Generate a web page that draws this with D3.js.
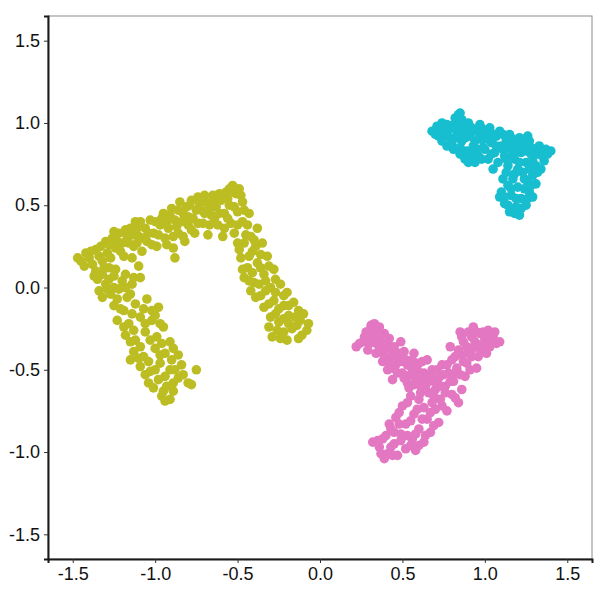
<!DOCTYPE html>
<html>
<head>
<meta charset="utf-8">
<script src="https://cdn.jsdelivr.net/npm/d3@7"></script>
<style>
  body { margin: 0; background: #fff; }
</style>
</head>
<body>
<div id="chart"></div>
<script>
// three groups of points (x, y)
var olive = [
  [-1.47,0.18],[-1.42,0.21],[-1.39,0.22],[-1.43,0.13],[-1.38,0.14],
  [-1.34,0.19],[-1.33,0.25],[-1.30,0.28],[-1.29,0.21],[-1.31,0.12],
  [-1.26,0.30],[-1.24,0.24],[-1.22,0.33],[-1.20,0.27],[-1.19,0.19],
  [-1.17,0.31],[-1.15,0.36],[-1.13,0.25],[-1.12,0.40],[-1.10,0.31],
  [-1.08,0.22],[-1.06,0.36],[-1.05,0.28],[-1.03,0.41],[-1.01,0.33],
  [-0.99,0.25],[-0.97,0.38],[-0.95,0.45],[-0.94,0.30],[-0.92,0.36],
  [-0.90,0.48],[-0.89,0.24],[-0.88,0.41],[-0.86,0.33],[-0.85,0.52],
  [-0.83,0.45],[-0.82,0.28],[-0.80,0.38],[-0.79,0.50],[-0.77,0.42],
  [-0.76,0.33],[-0.74,0.55],[-0.72,0.47],[-0.71,0.39],[-0.69,0.52],
  [-0.68,0.32],[-0.66,0.44],[-0.65,0.56],[-0.63,0.49],[-0.62,0.38],
  [-0.60,0.53],[-0.59,0.31],[-0.58,0.45],[-0.57,0.58],[-0.55,0.50],
  [-0.54,0.39],[-0.53,0.62],[-0.51,0.57],[-0.50,0.46],[-0.49,0.60],
  [-0.52,0.33],[-0.47,0.52],[-0.88,0.18],[-1.14,0.18],
  [-1.45,0.16],[-1.40,0.18],[-1.36,0.23],[-1.36,0.10],[-1.32,0.16],
  [-1.28,0.26],[-1.27,0.18],[-1.25,0.34],[-1.23,0.28],[-1.21,0.22],
  [-1.18,0.35],[-1.16,0.27],[-1.14,0.32],[-1.11,0.36],[-1.11,0.27],
  [-1.09,0.40],[-1.07,0.30],[-1.04,0.33],[-1.02,0.26],[-1.00,0.40],
  [-0.98,0.32],[-0.96,0.42],[-0.93,0.40],[-0.93,0.26],[-0.91,0.44],
  [-0.89,0.31],[-0.87,0.37],[-0.86,0.47],[-0.84,0.40],[-0.83,0.31],
  [-0.81,0.49],[-0.80,0.43],[-0.78,0.35],[-0.78,0.53],[-0.75,0.47],
  [-0.74,0.39],[-0.73,0.51],[-0.70,0.45],[-0.70,0.56],[-0.67,0.49],
  [-0.67,0.38],[-0.64,0.53],[-0.64,0.42],[-0.61,0.57],[-0.61,0.45],
  [-0.58,0.36],[-0.56,0.54],[-0.56,0.42],[-0.55,0.60],[-0.52,0.49],
  [-0.52,0.58],[-0.48,0.56],[-0.50,0.38],[-0.46,0.47],[-0.44,0.38],
  [-0.47,0.40],[-0.43,0.45],[-0.50,0.27],[-0.45,0.32],[-0.38,0.36],
  [-0.41,0.22],[-0.35,0.27],[-0.48,0.18],[-0.44,0.12],[-0.38,0.15],
  [-0.32,0.19],[-0.46,0.06],[-0.40,0.03],[-0.34,0.08],[-0.28,0.11],
  [-0.42,-0.02],[-0.36,-0.05],[-0.30,0.00],[-0.24,0.02],[-0.20,-0.03],
  [-0.34,-0.12],[-0.28,-0.08],[-0.22,-0.11],[-0.16,-0.09],[-0.13,-0.14],
  [-0.30,-0.18],[-0.25,-0.21],[-0.19,-0.17],[-0.12,-0.20],[-0.07,-0.22],
  [-0.29,-0.30],[-0.22,-0.27],[-0.17,-0.25],[-0.11,-0.29],[-0.08,-0.26],
  [-0.20,-0.32],[-0.31,-0.24],[-0.40,0.29],
  [-0.49,0.23],[-0.46,0.27],[-0.42,0.31],[-0.39,0.25],[-0.43,0.19],
  [-0.36,0.20],[-0.47,0.11],[-0.41,0.09],[-0.36,0.12],[-0.31,0.13],
  [-0.43,0.04],[-0.37,0.02],[-0.33,0.04],[-0.27,0.05],[-0.39,-0.06],
  [-0.33,-0.02],[-0.27,-0.03],[-0.22,-0.05],[-0.31,-0.10],[-0.25,-0.13],
  [-0.19,-0.11],[-0.27,-0.16],[-0.22,-0.19],[-0.15,-0.18],[-0.10,-0.16],
  [-0.26,-0.26],[-0.19,-0.22],[-0.14,-0.23],[-0.13,-0.31],[-0.24,-0.31],
  [-1.35,0.05],[-1.30,0.02],[-1.25,0.07],[-1.34,-0.02],[-1.27,-0.04],
  [-1.20,0.04],[-1.22,-0.01],[-1.14,0.02],[-1.09,0.06],[-1.17,-0.06],
  [-1.25,-0.11],[-1.19,-0.14],[-1.12,-0.10],[-1.05,-0.07],[-0.98,-0.12],
  [-1.23,-0.20],[-1.16,-0.22],[-1.09,-0.18],[-1.02,-0.20],[-0.95,-0.24],
  [-1.18,-0.29],[-1.12,-0.32],[-1.06,-0.27],[-0.99,-0.30],[-0.91,-0.33],
  [-1.13,-0.39],[-1.07,-0.42],[-1.00,-0.37],[-0.94,-0.40],[-0.86,-0.41],
  [-1.09,-0.48],[-1.03,-0.51],[-0.97,-0.46],[-0.91,-0.50],[-0.84,-0.47],
  [-1.04,-0.58],[-0.98,-0.56],[-0.93,-0.60],[-0.86,-0.55],[-0.80,-0.58],
  [-0.96,-0.66],[-0.91,-0.68],[-0.89,-0.63],[-0.75,-0.50],[-0.78,-0.59],
  [-1.28,0.12],[-1.10,0.13],[-1.02,-0.14],[-1.15,-0.44],
  [-1.37,0.07],[-1.32,0.08],[-1.28,0.05],[-1.24,0.11],[-1.18,0.08],
  [-1.32,-0.06],[-1.29,-0.01],[-1.25,0.00],[-1.18,0.00],[-1.13,0.06],
  [-1.23,-0.07],[-1.15,-0.04],[-1.21,-0.13],[-1.14,-0.16],[-1.07,-0.13],
  [-1.00,-0.17],[-1.19,-0.24],[-1.13,-0.26],[-1.06,-0.22],[-0.97,-0.22],
  [-1.15,-0.33],[-1.09,-0.36],[-1.03,-0.32],[-0.96,-0.34],[-0.89,-0.37],
  [-1.10,-0.43],[-1.04,-0.45],[-0.97,-0.41],[-0.90,-0.44],[-1.06,-0.53],
  [-1.00,-0.50],[-0.94,-0.54],[-0.88,-0.50],[-1.01,-0.61],[-0.95,-0.63],
  [-0.89,-0.58],[-0.83,-0.53],[-0.94,-0.69]
];

var cyan = [
  [0.68,0.95],[0.71,0.98],[0.72,0.92],[0.75,0.96],[0.77,0.99],
  [0.79,0.91],[0.82,1.03],[0.84,1.05],[0.86,1.02],[0.83,0.95],
  [0.80,0.87],[0.86,0.89],[0.88,0.97],[0.90,1.00],[0.91,0.92],
  [0.89,0.83],[0.93,0.86],[0.95,0.95],[0.97,0.99],[0.98,0.90],
  [0.96,0.80],[1.00,0.84],[1.01,0.94],[1.03,0.97],[1.04,0.88],
  [1.02,0.78],[1.06,0.82],[1.07,0.92],[1.09,0.95],[1.10,0.86],
  [1.08,0.76],[1.12,0.80],[1.13,0.90],[1.15,0.93],[1.16,0.84],
  [1.14,0.74],[1.18,0.78],[1.19,0.88],[1.21,0.91],[1.22,0.82],
  [1.24,0.86],[1.25,0.76],[1.27,0.89],[1.28,0.81],[1.30,0.84],
  [1.31,0.74],[1.33,0.86],[1.35,0.80],[1.37,0.84],[1.40,0.83],
  [1.34,0.72],[1.29,0.68],[1.26,0.64],[1.23,0.70],[1.20,0.72],
  [1.17,0.66],[1.11,0.66],[1.14,0.62],[1.20,0.61],[1.27,0.58],
  [1.10,0.58],[1.16,0.56],[1.22,0.54],[1.29,0.55],[1.12,0.51],
  [1.19,0.49],[1.25,0.50],[1.21,0.44],[1.15,0.46],[1.09,0.55],
  [1.05,0.72],[0.94,0.76],[1.31,0.63],
  [0.70,0.93],[0.73,0.96],[0.74,1.00],[0.76,0.93],[0.78,0.96],
  [0.81,0.99],[0.85,1.06],[0.83,0.91],[0.84,0.99],[0.87,0.95],
  [0.85,0.85],[0.88,0.91],[0.92,0.97],[0.94,0.89],[0.91,0.82],
  [0.95,0.84],[0.97,0.92],[0.99,0.96],[0.99,0.85],[1.02,0.90],
  [0.98,0.78],[1.04,0.81],[1.05,0.93],[1.07,0.86],[1.11,0.93],
  [1.11,0.84],[1.13,0.78],[1.14,0.87],[1.17,0.90],[1.17,0.80],
  [1.20,0.84],[1.21,0.76],[1.23,0.88],[1.25,0.83],[1.26,0.92],
  [1.28,0.85],[1.29,0.77],[1.32,0.81],[1.34,0.84],[1.36,0.77],
  [1.38,0.81],[1.32,0.70],[1.27,0.72],[1.24,0.66],[1.18,0.69],
  [1.13,0.70],[1.16,0.60],[1.24,0.60],[1.12,0.55],[1.19,0.54],
  [1.26,0.54],[1.14,0.50],[1.22,0.48],[1.18,0.45],[1.28,0.62],
  [0.77,0.86],[0.81,0.84],[0.85,0.81],[0.88,0.78],[0.92,0.79],
  [0.90,0.76],[0.74,0.89]
];

var pink = [
  [0.22,-0.36],[0.26,-0.33],[0.28,-0.27],[0.31,-0.23],[0.33,-0.22],
  [0.29,-0.38],[0.32,-0.30],[0.35,-0.26],[0.37,-0.33],[0.34,-0.40],
  [0.39,-0.28],[0.40,-0.37],[0.38,-0.45],[0.42,-0.31],[0.43,-0.42],
  [0.41,-0.50],[0.45,-0.36],[0.46,-0.47],[0.44,-0.56],[0.48,-0.40],
  [0.50,-0.52],[0.49,-0.33],[0.52,-0.44],[0.53,-0.58],[0.55,-0.48],
  [0.57,-0.40],[0.58,-0.55],[0.60,-0.46],[0.61,-0.60],[0.63,-0.52],
  [0.65,-0.44],[0.66,-0.57],[0.68,-0.50],[0.70,-0.62],[0.36,-0.24],
  [0.72,-0.55],[0.74,-0.47],[0.76,-0.60],[0.78,-0.52],[0.80,-0.44],
  [0.81,-0.57],[0.83,-0.49],[0.84,-0.38],[0.86,-0.30],[0.87,-0.45],
  [0.88,-0.54],[0.89,-0.36],[0.90,-0.27],[0.92,-0.42],[0.93,-0.24],
  [0.94,-0.33],[0.95,-0.49],[0.97,-0.28],[0.98,-0.38],[1.00,-0.31],
  [1.02,-0.26],[1.03,-0.36],[1.05,-0.30],[1.07,-0.34],[1.09,-0.33],
  [0.96,-0.42],[1.01,-0.40],[0.91,-0.50],[0.85,-0.27],[0.79,-0.36],
  [0.66,-0.64],[0.73,-0.68],[0.80,-0.65],[0.86,-0.62],[0.84,-0.70],
  [0.60,-0.68],[0.55,-0.66],[0.63,-0.73],[0.70,-0.74],[0.77,-0.75],
  [0.50,-0.72],[0.57,-0.77],[0.65,-0.80],[0.72,-0.82],[0.46,-0.79],
  [0.52,-0.83],[0.60,-0.86],[0.67,-0.88],[0.43,-0.86],[0.49,-0.89],
  [0.56,-0.92],[0.63,-0.94],[0.38,-0.92],[0.45,-0.95],[0.52,-0.98],
  [0.32,-0.94],[0.36,-0.97],[0.41,-1.01],[0.39,-1.04],[0.47,-1.02],
  [0.58,-0.99],[0.42,-0.83],[0.54,-0.61],[0.68,-0.70],
  [0.24,-0.34],[0.27,-0.30],[0.30,-0.26],[0.30,-0.34],[0.33,-0.27],
  [0.34,-0.34],[0.36,-0.29],[0.36,-0.38],[0.38,-0.35],[0.39,-0.42],
  [0.41,-0.34],[0.42,-0.46],[0.44,-0.39],[0.44,-0.49],[0.46,-0.42],
  [0.47,-0.52],[0.49,-0.45],[0.51,-0.39],[0.51,-0.55],[0.53,-0.47],
  [0.55,-0.53],[0.56,-0.44],[0.57,-0.59],[0.59,-0.50],[0.62,-0.55],
  [0.62,-0.45],[0.64,-0.60],[0.67,-0.53],[0.69,-0.57],[0.71,-0.50],
  [0.73,-0.60],[0.75,-0.53],[0.77,-0.47],[0.79,-0.57],[0.82,-0.52],
  [0.82,-0.42],[0.85,-0.53],[0.86,-0.41],[0.87,-0.33],[0.89,-0.46],
  [0.90,-0.40],[0.92,-0.30],[0.93,-0.37],[0.95,-0.27],[0.96,-0.35],
  [0.99,-0.27],[0.99,-0.34],[1.01,-0.29],[1.04,-0.33],[1.06,-0.27],
  [0.69,-0.66],[0.76,-0.64],[0.82,-0.67],[0.61,-0.64],[0.67,-0.76],
  [0.74,-0.72],[0.53,-0.70],[0.59,-0.74],[0.62,-0.80],[0.69,-0.84],
  [0.48,-0.76],[0.55,-0.81],[0.48,-0.83],[0.58,-0.89],[0.64,-0.90],
  [0.45,-0.88],[0.53,-0.90],[0.40,-0.90],[0.49,-0.93],[0.43,-0.97],
  [0.55,-0.96],[0.35,-0.93],[0.60,-0.96],[0.44,-1.02],[0.37,-1.01]
];

var groups = ["olive", "cyan", "pink"];
var groupColors = ["#bcbd22", "#17becf", "#e377c2"];
var tickValues = [-1.5, -1.0, -0.5, 0.0, 0.5, 1.0, 1.5];
var domainX = [-1.65, 1.65];
var domainY = [-1.65, 1.65];

var width = 600,
    height = 600;
var margin = {top: 16, right: 8, bottom: 41, left: 48};

var svg = d3.select("#chart")
  .append("svg")
  .attr("width", width)
  .attr("height", height);

var x = d3.scaleLinear().domain(domainX).range([margin.left, width - margin.right]);
var y = d3.scaleLinear().domain(domainY).range([height - margin.bottom, margin.top]);
var color = d3.scaleOrdinal().domain(groups).range(groupColors);

// panel border (thin grey)
svg.append("rect")
  .attr("x", margin.left)
  .attr("y", margin.top)
  .attr("width", width - margin.left - margin.right)
  .attr("height", height - margin.top - margin.bottom)
  .attr("fill", "none")
  .attr("stroke", "#8c8c8c")
  .attr("stroke-width", 1);

var data = [];
[olive, cyan, pink].forEach(function (arr, i) {
  arr.forEach(function (p) {
    data.push({x: p[0], y: p[1], g: groups[i]});
  });
});

svg.append("g")
  .selectAll("circle")
  .data(data)
  .enter().append("circle")
  .attr("cx", function (d) { return x(d.x); })
  .attr("cy", function (d) { return y(d.y); })
  .attr("r", 4.8)
  .attr("fill", function (d) { return color(d.g); });

// plain hyphen for negatives, like the original
var fmt = function (d) { return d3.format(".1f")(d).replace("\u2212", "-"); };

var xAxis = svg.append("g")
  .attr("transform", "translate(0," + (height - margin.bottom) + ")")
  .call(d3.axisBottom(x).tickValues(tickValues).tickFormat(fmt).tickSize(4).tickPadding(4));

var yAxis = svg.append("g")
  .attr("transform", "translate(" + margin.left + ",0)")
  .call(d3.axisLeft(y).tickValues(tickValues).tickFormat(fmt).tickSize(4).tickPadding(4));

[xAxis, yAxis].forEach(function (ax) {
  ax.attr("font-family", "'Liberation Sans', Arial, sans-serif").attr("font-size", 18);
  ax.select(".domain").attr("stroke", "#1a1a1a").attr("stroke-width", 2);
  ax.selectAll(".tick line").attr("stroke", "#333").attr("stroke-width", 1);
  ax.selectAll(".tick text").attr("fill", "#111");
});
</script>
</body>
</html>
